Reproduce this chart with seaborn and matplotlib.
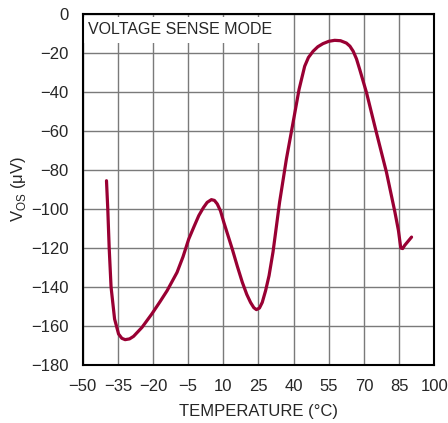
import matplotlib
matplotlib.use("Agg")
import matplotlib.pyplot as plt
import seaborn as sns
import pandas as pd

# values
temp_c = [-39.85, -39.3, -38.7, -37.9, -36.4, -34.7, -33.3, -31.9, -30.0, -28.3,
          -24.7, -20.5, -17.0, -14.0, -9.75, -7.2, -4.76, -2.5, -0.48, 1.5,
          3.1, 4.9, 6.2, 7.4, 8.8, 10.2, 13.8, 16.0, 18.1, 20.0,
          21.6, 23.0, 24.1, 25.4, 26.6, 28.0, 29.5, 31.2, 32.3, 34.0,
          36.9, 40.0, 42.3, 44.7, 46.3, 48.3, 50.3, 52.5, 55.0, 57.5,
          60.0, 62.5, 64.0, 65.4, 66.8, 68.2, 71.1, 75.3, 79.6, 83.2,
          84.7, 85.7, 86.5, 87.4, 90.3]
vos_uv = [-85.5, -100.0, -120.0, -140.0, -156.4, -164.1, -166.3, -167.0, -166.6, -165.3,
          -160.7, -153.8, -147.5, -141.9, -132.5, -124.5, -115.4, -109.0, -103.4, -99.3,
          -96.6, -95.2, -95.6, -97.4, -101.0, -106.8, -120.5, -129.5, -137.6, -143.8,
          -147.9, -150.6, -151.6, -150.8, -147.9, -142.0, -134.2, -122.0, -112.0, -96.5,
          -74.4, -54.0, -38.7, -26.8, -22.3, -19.1, -16.8, -15.2, -14.0, -13.5,
          -13.7, -14.9, -16.5, -19.1, -23.0, -28.5, -40.4, -60.8, -81.2, -101.6,
          -111.0, -120.0, -120.3, -118.6, -114.4]

x_ticks = [-50, -35, -20, -5, 10, 25, 40, 55, 70, 85, 100]
y_ticks = [0, -20, -40, -60, -80, -100, -120, -140, -160, -180]

df = pd.DataFrame({"Temperature": temp_c, "VOS": vos_uv})

sns.set_style("white")
plt.rcParams["font.family"] = ["Liberation Sans", "DejaVu Sans"]
plt.rcParams["mathtext.fontset"] = "custom"
plt.rcParams["mathtext.rm"] = "Liberation Sans"

fig = plt.figure(figsize=(4.48, 4.23), dpi=100)
ax = fig.add_axes([0.1846, 0.1371, 0.7848, 0.8298])

sns.lineplot(data=df, x="Temperature", y="VOS", ax=ax, color="#990033",
             linewidth=2.3, sort=False, estimator=None)

ax.set_xlim(-50, 100)
ax.set_ylim(-180, 0)
ax.set_xticks(x_ticks)
ax.set_yticks(y_ticks)
ax.tick_params(axis="x", length=0, labelsize=12, pad=10)
ax.tick_params(axis="y", length=0, labelsize=12, pad=10)
ax.grid(True, color="#7a7a7a", linewidth=1.0)
ax.set_axisbelow(True)
for s in ax.spines.values():
    s.set_color("black")
    s.set_linewidth(1.5)
    s.set_zorder(3)

ax.set_xlabel("TEMPERATURE (°C)", fontsize=12, labelpad=7)
ax.set_ylabel(r"V$_{\mathrm{OS}}$ (μV)", fontsize=12, labelpad=2)

ax.text(-47.8, -4.3, "VOLTAGE SENSE MODE", fontsize=11.5, va="top", ha="left",
        zorder=2.2, bbox=dict(facecolor="white", edgecolor="none", pad=4))

fig.savefig("out.png", dpi=100)
